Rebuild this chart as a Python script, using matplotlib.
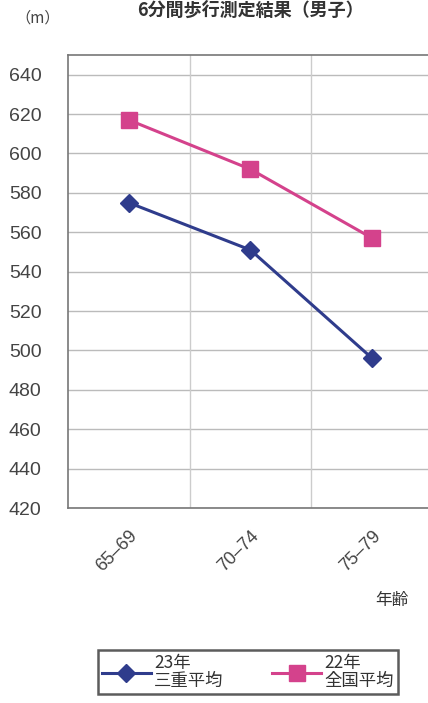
import matplotlib
matplotlib.use("Agg")
import matplotlib.pyplot as plt

plt.rcParams['font.family'] = ['Noto Sans CJK JP', 'DejaVu Sans']

categories = ["65\u201369", "70\u201374", "75\u201379"]
mie_2011 = [575, 551, 496]
national_2010 = [617, 592, 557]
yticks = [420, 440, 460, 480, 500, 520, 540, 560, 580, 600, 620, 640]

W, H = 428, 703
fig = plt.figure(figsize=(W / 100, H / 100), dpi=100)
ax = fig.add_axes([68 / W, 1 - 508 / H, 365 / W, (508 - 55) / H])

x = list(range(len(categories)))
blue = "#2F3C8C"
pink = "#D4428C"
l1, = ax.plot(x, mie_2011, color=blue, lw=2.2, marker="D", ms=9, label="23年\n三重平均")
l2, = ax.plot(x, national_2010, color=pink, lw=2.2, marker="s", ms=11, label="22年\n全国平均")

ax.set_xlim(-0.5, 2.5)
ax.set_ylim(420, 650)
ax.set_yticks(yticks)
ax.set_xticks(x)
ax.set_xticklabels(categories, rotation=45, ha="right", rotation_mode="anchor",
                   fontsize=13, color="#444444", family=["Liberation Sans", "DejaVu Sans"])
ax.tick_params(axis="y", labelsize=14, labelcolor="#444444", length=0, pad=19)
for lab in ax.get_yticklabels():
    lab.set_family(["Liberation Sans", "DejaVu Sans"])
ax.tick_params(axis="x", length=0, pad=14)
for yv in yticks:
    ax.axhline(yv, color="#BBBBBB", lw=1, zorder=0)
for xv in [0.5, 1.5]:
    ax.axvline(xv, color="#CCCCCC", lw=1, zorder=0)
for s in ax.spines.values():
    s.set_color("#777777")
    s.set_linewidth(1.2)

fig.text(15 / W, 1 - 18 / H, "（m）", fontsize=11, color="#444444", va="center", ha="left")
fig.text(250 / W, 1 - 1 / H, "6分間歩行測定結果（男子）", fontsize=13, color="#333333",
         va="top", ha="center", fontweight="bold")
fig.text(392 / W, 1 - 600 / H, "年齢", fontsize=12, color="#333333", va="center", ha="center")

leg = fig.legend(handles=[l1, l2], loc="center", bbox_to_anchor=(248 / W, 1 - 672 / H),
                 ncol=2, frameon=True, fancybox=False, fontsize=12.5, handlelength=2.8,
                 columnspacing=2.8, borderpad=0.25, handletextpad=0.2, borderaxespad=0)
leg.get_frame().set_edgecolor("#333333")
leg.get_frame().set_linewidth(1.8)
for t in leg.get_texts():
    t.set_color("#333333")
    t.set_linespacing(1.0)

fig.savefig("out.png", dpi=100)
